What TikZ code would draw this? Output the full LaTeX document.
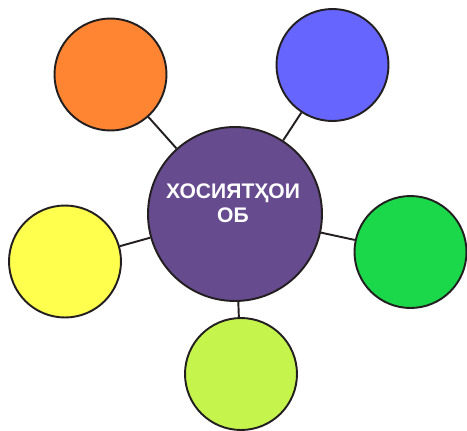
\documentclass[tikz,border=0pt]{standalone}
\usepackage{fontspec}
\setmainfont{Liberation Sans}
\definecolor{linie}{HTML}{231F20}
\definecolor{lila}{HTML}{674B8F}
\definecolor{korange}{HTML}{FF8533}
\definecolor{kblau}{HTML}{6666FF}
\definecolor{kgruen}{HTML}{1BD74A}
\definecolor{kgelb}{HTML}{FFFF4D}
\definecolor{khellgruen}{HTML}{C5F54D}
\begin{document}
\begin{tikzpicture}[x=0.02cm,y=-0.02cm,
	kreis/.style={circle,draw=linie,line width=1.1pt,minimum size=2.24cm,inner sep=0pt},
	verbinder/.style={draw=linie,line width=1.1pt}]
	\useasboundingbox (0,0) rectangle (467,430);
	
	% Mittlerer Kreis mit Titel
	\node[kreis,fill=lila,minimum size=3.48cm] (mitte) at (235,214) {};
	\node[text=white,font=\bfseries\fontsize{12}{13.6}\selectfont,align=center] (titel) at (233,203) {ХОСИЯТҲОИ\\ОБ};
	
	% Äußere Kreise und Verbindungen zur Mitte
	\foreach \name/\x/\y/\farbe in {orange/110.5/74.5/korange, blau/332.5/65/kblau, gruen/410.5/252/kgruen, gelb/65/261.5/kgelb, hellgruen/241/374/khellgruen} {
		\node[kreis,fill=\farbe] (\name) at (\x,\y) {};
		\draw[verbinder] (mitte) -- (\name);
	}
\end{tikzpicture}
\end{document}
